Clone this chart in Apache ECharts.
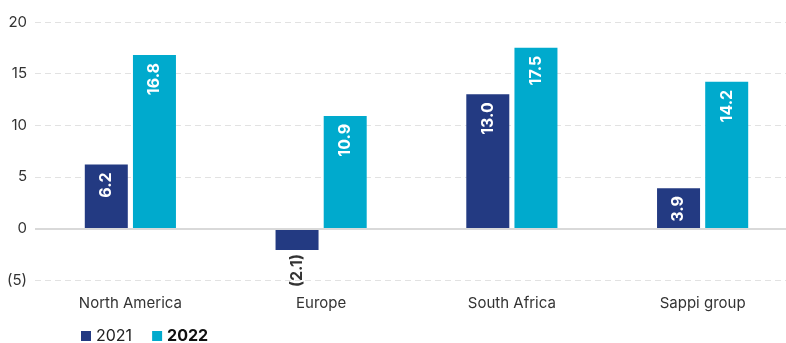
<!DOCTYPE html>
<html><head><meta charset="utf-8">
<script src="https://cdn.jsdelivr.net/npm/echarts@6/dist/echarts.min.js"></script>
<style>html,body{margin:0;padding:0;background:#fff;overflow:hidden}#c{width:800px;height:343px}</style>
</head><body><div id="c"></div>
<script>
const categories = ['North America', 'Europe', 'South Africa', 'Sappi group'];
const values2021 = [6.2, -2.1, 13.0, 3.9];
const values2022 = [16.8, 10.9, 17.5, 14.2];
const seriesNames = ['2021', '2022'];

const fmt = v => v < 0 ? '(' + Math.abs(v).toFixed(1) + ')' : v.toFixed(1);
const FONT = 'Inter';

function mkData(arr) {
  return arr.map(v => {
    if (v < 0) {
      return { value: v, label: { position: 'bottom', distance: 4, color: '#333', align: 'right', verticalAlign: 'middle' } };
    }
    return { value: v };
  });
}

const chart = echarts.init(document.getElementById('c'), null, { renderer: 'canvas' });
chart.setOption({
  animation: false,
  textStyle: { fontFamily: FONT },
  grid: { left: 35, top: 22, width: 763, height: 258 },
  legend: {
    left: 81, top: 328, padding: 0, itemWidth: 10, itemHeight: 10, itemGap: 20, icon: 'rect',
    data: seriesNames,
    textStyle: {
      fontFamily: FONT, fontSize: 16, color: '#222',
      rich: { b: { fontWeight: 'bold', fontSize: 16, fontFamily: FONT, color: '#111' } }
    },
    formatter: n => n === '2022' ? '{b|' + n + '}' : n
  },
  xAxis: {
    type: 'category', data: categories,
    axisLine: { show: false, onZero: false },
    axisTick: { show: false },
    axisLabel: { color: '#333', fontSize: 15, fontFamily: FONT, margin: 16 }
  },
  yAxis: {
    type: 'value', min: -5, max: 20, interval: 5,
    axisLine: { show: false }, axisTick: { show: false },
    axisLabel: { color: '#333', fontSize: 15, fontFamily: FONT, margin: 8, formatter: v => v < 0 ? '(' + Math.abs(v) + ')' : String(v) },
    splitLine: { lineStyle: { color: '#e2e2e2', type: [6, 4], width: 1 } }
  },
  series: [
    {
      name: '2021', type: 'bar', data: mkData(values2021), barWidth: 43, barGap: '12%',
      itemStyle: { color: '#233a82' },
      label: { show: true, position: 'insideTop', distance: 8, rotate: 90, align: 'right', verticalAlign: 'middle',
        color: '#fff', fontWeight: 'bold', fontSize: 16, fontFamily: FONT, formatter: p => fmt(p.value) },
      markLine: { silent: true, symbol: 'none', label: { show: false },
        lineStyle: { color: '#d9d9d9', type: 'solid', width: 2 }, data: [{ yAxis: 0 }] },
      z: 3
    },
    {
      name: '2022', type: 'bar', data: mkData(values2022), barWidth: 43,
      itemStyle: { color: '#00aacd' },
      label: { show: true, position: 'insideTop', distance: 8, rotate: 90, align: 'right', verticalAlign: 'middle',
        color: '#fff', fontWeight: 'bold', fontSize: 16, fontFamily: FONT, formatter: p => fmt(p.value) },
      z: 3
    }
  ]
});
</script></body></html>
